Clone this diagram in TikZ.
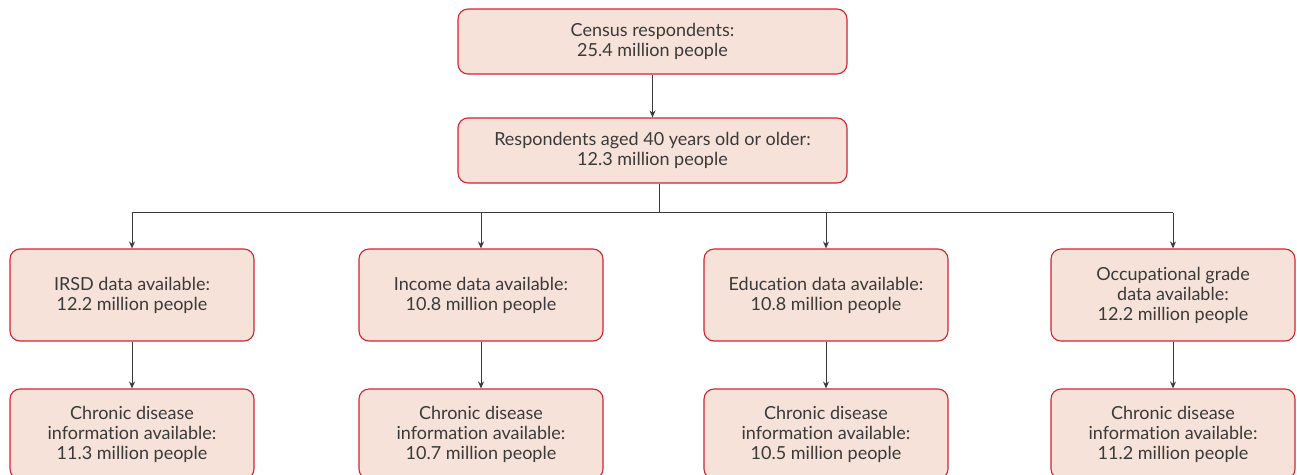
\documentclass[tikz,border=0pt]{standalone}
\usepackage{fontspec}
\setmainfont[Ligatures=NoCommon]{Lato}
\usetikzlibrary{arrows.meta}
\definecolor{boxfill}{HTML}{F6E2D9}
\definecolor{boxline}{HTML}{D2232E}
\definecolor{lineclr}{HTML}{3A3A3A}
\definecolor{txt}{HTML}{3A3A3A}
\tikzset{
  fbox/.style={draw=boxline, fill=boxfill, line width=1.1pt, rounded corners=10pt,
    align=center, inner sep=0pt, font=\fontsize{18}{20}\selectfont, text=txt},
  wide/.style={fbox, minimum width=389pt, minimum height=65pt},
  narrow/.style={fbox, minimum width=244pt},
  conn/.style={draw=lineclr, line width=1pt},
  arr/.style={conn, -{Stealth[length=7pt,width=6pt]}}
}
\begin{document}
\begin{tikzpicture}[x=1pt,y=-1pt]
\useasboundingbox (0,0) rectangle (1297,474);
\node[wide] (a) at (652.5,41.5) {Census respondents:\\25.4 million people};
\node[wide] (b) at (652.5,150.5) {Respondents aged 40 years old or older:\\12.3 million people};
\node[narrow, minimum height=92pt] (r1) at (132,295) {IRSD data available:\\12.2 million people};
\node[narrow, minimum height=92pt] (r2) at (481,295) {Income data available:\\10.8 million people};
\node[narrow, minimum height=92pt] (r3) at (826,295) {Education data available:\\10.8 million people};
\node[narrow, minimum height=92pt] (r4) at (1173,295) {Occupational grade\\data available:\\12.2 million people};
\node[narrow, minimum height=90pt] (s1) at (132,434) {Chronic disease\\information available:\\11.3 million people};
\node[narrow, minimum height=90pt] (s2) at (481,434) {Chronic disease\\information available:\\10.7 million people};
\node[narrow, minimum height=90pt] (s3) at (826,434) {Chronic disease\\information available:\\10.5 million people};
\node[narrow, minimum height=90pt] (s4) at (1173,434) {Chronic disease\\information available:\\11.2 million people};
\coordinate (j) at (659,212.5);
\draw[arr] (a) -- (b);
\draw[conn] (b.south -| j) -- (j);
\draw[conn] (j -| r1) -- (j -| r4);
\foreach \i in {1,2,3,4} {
  \draw[arr] (j -| r\i) -- (r\i);
  \draw[arr] (r\i) -- (s\i);
}
\end{tikzpicture}
\end{document}
